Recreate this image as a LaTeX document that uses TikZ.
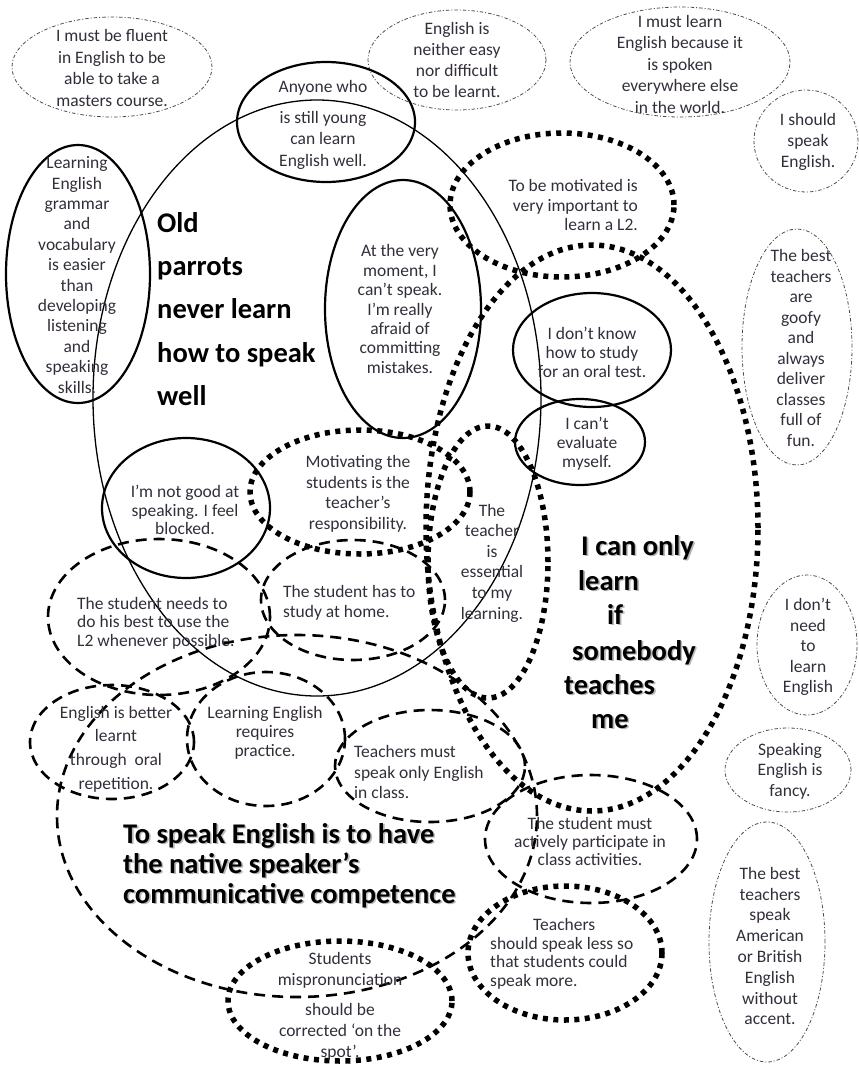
\documentclass[tikz,border=0pt]{standalone}
\usepackage{fontspec}
\setmainfont{Carlito}
\usetikzlibrary{shapes.geometric}
\definecolor{txt}{RGB}{52,45,58}
\newcommand\shtext[1]{\makebox[0pt][l]{\hspace{1.6pt}\raisebox{-1.8pt}{\color{black!28}#1}}#1}
\begin{document}
\begin{tikzpicture}[x=1pt,y=-1pt,
  el/.style={ellipse, inner sep=0pt, outer sep=0pt},
  dd/.style={draw=black!70, line width=0.8pt, dash pattern=on 3.5pt off 2pt on 1pt off 2pt},
  thinline/.style={draw=black, line width=1.3pt},
  sol/.style={draw=black, line width=2.2pt},
  dsh/.style={draw=black, line width=2.6pt, dash pattern=on 11pt off 7pt},
  dts/.style={draw=black, line width=5.5pt, dash pattern=on 5pt off 5.5pt},
  t/.style={text=txt, align=center, inner sep=0pt, font=\fontsize{17.5}{#1}\selectfont},
  t/.default=21,
  big/.style={text=black, inner sep=0pt, anchor=base west, font=\fontsize{28.5}{30}\selectfont\bfseries},
]
\useasboundingbox (0,0) rectangle (859,1066);

% dash-dot ellipses
\node[el,dd,minimum width=200pt,minimum height=100pt] (e1) at (112,67) {};
\node[el,dd,minimum width=178pt,minimum height=100pt] (e2) at (457,60) {};
\node[el,dd,minimum width=220pt,minimum height=110pt] (e3) at (680,62) {};
\node[el,dd,minimum width=104pt,minimum height=102pt] (e4) at (806,141) {};
\node[el,dd,minimum width=110pt,minimum height=236pt] (e5) at (797,347) {};
\node[el,dd,minimum width=100pt,minimum height=140pt] (e6) at (807,645) {};
\node[el,dd,minimum width=126pt,minimum height=84pt] (e7) at (788,770) {};
\node[el,dd,minimum width=116pt,minimum height=240pt] (e8) at (767,942) {};

% thin solid
\node[el,thinline,minimum width=448pt,minimum height=596pt] (g) at (317,398) {};

% solid
\node[el,sol,minimum width=178pt,minimum height=120pt] (a) at (326,122) {};
\node[el,sol,minimum width=144pt,minimum height=258pt] (b) at (78,274) {};
\node[el,sol,minimum width=156pt,minimum height=258pt] (c) at (403,309) {};
\node[el,sol,minimum width=158pt,minimum height=114pt] (d) at (592,350) {};
\node[el,sol,minimum width=130pt,minimum height=86pt] (e) at (580,442) {};
\node[el,sol,minimum width=168pt,minimum height=140pt] (f) at (186,508) {};

% dashed
\node[el,dsh,minimum width=222pt,minimum height=156pt] (n) at (159,617) {};
\node[el,dsh,minimum width=184pt,minimum height=120pt] (o) at (353,600) {};
\node[el,dsh,minimum width=164pt,minimum height=114pt] (p) at (112,742) {};
\node[el,dsh,minimum width=158pt,minimum height=134pt] (q) at (266,739) {};
\node[el,dsh,minimum width=190pt,minimum height=112pt] (r) at (430,766) {};
\node[el,dsh,minimum width=480pt,minimum height=362pt] (s) at (297,816) {};
\node[el,dsh,minimum width=212pt,minimum height=128pt] (u) at (591,839) {};

% dotted
\node[el,dts,minimum width=224pt,minimum height=144pt] (h) at (562,205) {};
\node[el,dts,minimum width=332pt,minimum height=566pt] (i) at (592,528) {};
\node[el,dts,minimum width=220pt,minimum height=124pt] (j) at (360,492) {};
\node[el,dts,minimum width=120pt,minimum height=272pt] (k) at (488,562) {};
\node[el,dts,minimum width=194pt,minimum height=134pt] (l) at (565,953) {};
\node[el,dts,minimum width=224pt,minimum height=120pt] (m) at (340,1001) {};

% texts
\node[t=21.5] (t1) at (112,68) {I must be fluent\\in English to be\\able to take a\\masters course.};
\node[t=21.3] (t2) at (457,60) {English is\\neither easy\\nor difficult\\to be learnt.};
\node[t=21.5] (t3) at (680,64) {I must learn\\English because it\\is spoken\\everywhere else\\in the world.};
\node[t=21] (t4) at (808,142) {I should\\speak\\English.};
\node[t=20.5] (t5) at (801,348) {The best\\teachers\\are\\goofy\\and\\always\\deliver\\classes\\full of\\fun.};
\node[t=20.5] (t6) at (808,647) {I don’t\\need\\to\\learn\\English};
\node[t=20.5] (t7) at (790,771) {Speaking\\English is\\fancy.};
\node[t=20.8] (t8) at (770,946) {The best\\teachers\\speak\\American\\or British\\English\\without\\accent.};

\node[t=21.5] (ta) at (323,125) {Anyone who\\[9pt]is still young\\can learn\\English well.};
\node[t=20.4] (tb) at (77,275) {Learning\\English\\grammar\\and\\vocabulary\\is easier\\than\\developing\\listening\\and\\speaking\\skills.};
\node[t=19.4] (tc) at (400,309) {At the very\\moment, I\\can’t speak.\\I’m really\\afraid of\\committing\\mistakes.};
\node[t=19] (td) at (592,352) {I don’t know\\how to study\\for an oral test.};
\node[t=19] (te) at (587,444) {I can’t\\evaluate\\myself.};
\node[t=18.8] (tf) at (185,510) {I’m not good at\\speaking. I feel\\blocked.};
\node[t=19.5,align=right,anchor=east] (th) at (638,205) {To be motivated is\\very important to\\learn a L2.};
\node[t=20.5] (tj) at (358,494) {Motivating the\\students is the\\teacher’s\\responsibility.};
\node[t=20.6] (tk) at (492,563) {The\\teacher\\is\\essential\\to my\\learning.};
\node[t=18.5,align=left,anchor=west] (tl) at (490,954) {\hspace*{43pt}Teachers\\should speak less so\\that students could\\speak more.};
\node[t=21] (tm) at (340,1006) {Students\\mispronunciation\\[9pt]should be\\corrected ‘on the\\spot’.};
\node[t=18.5,align=left,anchor=west] (tn) at (77,623) {The student needs to\\do his best to use the\\L2 whenever possible.};
\node[t=20,align=left,anchor=west] (to) at (283,603) {The student has to\\study at home.};
\node[t=23.7] (tp) at (116,749) {English is better\\learnt\\through~ oral\\repetition.};
\node[t=19] (tq) at (265,733) {Learning English\\requires\\practice.};
\node[t=20.5,align=left,anchor=west] (tr) at (354,772) {Teachers must\\speak only English\\in class.};
\node[t=18] (tu) at (590,841) {The student must\\actively participate in\\class activities.};

% titles
\node[big] (o1) at (157,232) {Old};
\node[big] (o2) at (157,275) {parrots};
\node[big] (o3) at (157,318) {never learn};
\node[big] (o4) at (157,362) {how to speak};
\node[big] (o5) at (157,405) {well};

\node[big] (c1) at (581,555) {\shtext{I can only}};
\node[big] (c2) at (578,590) {\shtext{learn}};
\node[big] (c3) at (607,624) {\shtext{if}};
\node[big] (c4) at (572,660) {\shtext{somebody}};
\node[big] (c5) at (564,694) {\shtext{teaches}};
\node[big] (c6) at (591,728) {\shtext{me}};

\node[big] (s1) at (123,843) {\shtext{To speak English is to have}};
\node[big] (s2) at (123,873) {\shtext{the native speaker’s}};
\node[big] (s3) at (123,903) {\shtext{communicative competence}};
\end{tikzpicture}
\end{document}
